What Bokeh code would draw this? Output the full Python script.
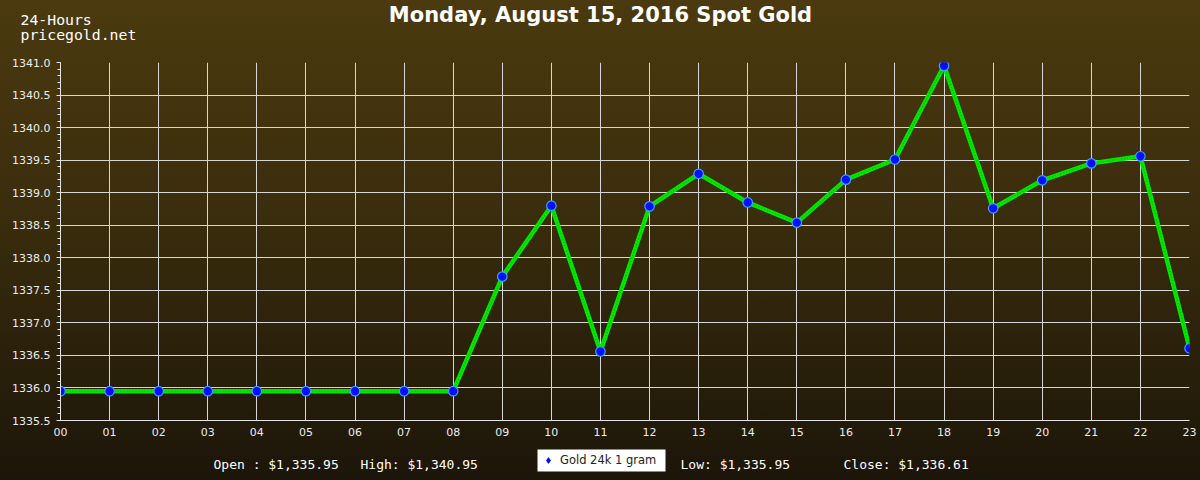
from bokeh.plotting import figure
from bokeh.layouts import column
from bokeh.models import (Label, Legend, LegendItem, FixedTicker, SingleIntervalTicker,
                          NumeralTickFormatter, BoxAnnotation)
from bokeh.embed import file_html
from bokeh.resources import INLINE

# ---- data ----
hours = ["00", "01", "02", "03", "04", "05", "06", "07", "08", "09", "10", "11",
         "12", "13", "14", "15", "16", "17", "18", "19", "20", "21", "22", "23"]
prices = [1335.95, 1335.95, 1335.95, 1335.95, 1335.95, 1335.95, 1335.95, 1335.95,
          1335.95, 1337.71, 1338.80, 1336.56, 1338.79, 1339.29, 1338.85, 1338.54,
          1339.20, 1339.51, 1340.95, 1338.76, 1339.19, 1339.45, 1339.56, 1336.61]
title_text = "Monday, August 15, 2016 Spot Gold"
corner_lines = ["24-Hours", "pricegold.net"]
series_name = "Gold 24k 1 gram"
y_min, y_max = 1335.5, 1341.0

W = 1200
x = list(range(len(hours)))


def blank(height):
    f = figure(width=W, height=height, output_backend="svg", toolbar_location=None,
               x_axis_location=None, y_axis_location=None, min_border=0,
               x_range=(0, 1), y_range=(0, 1))
    f.background_fill_color = None
    f.border_fill_color = None
    f.outline_line_color = None
    f.grid.visible = False
    if hasattr(f, "frame_align"):
        f.frame_align = False
    return f


def lbl(f, text, xx, yy, size, font="DejaVu Sans Mono", style="normal", align="left"):
    f.add_layout(Label(x=xx, y=yy, x_units="screen", y_units="screen", text=text,
                       text_font=font, text_font_size=size, text_font_style=style,
                       text_color="white", text_align=align, text_baseline="middle"))


# ---- header ----
header = blank(54)
lbl(header, title_text, 600, 40, "21px", font="DejaVu Sans", style="bold", align="center")
lbl(header, corner_lines[0], 20, 35, "14.8px")
lbl(header, corner_lines[1], 20, 20, "14.8px")

# ---- main chart ----
p = figure(width=W, height=390, output_backend="svg", toolbar_location=None,
           x_range=(0, len(hours) - 1), y_range=(y_min, y_max),
           min_border_left=60, min_border_right=11, min_border_top=8, min_border_bottom=24)
p.background_fill_color = None
p.border_fill_color = None
p.outline_line_color = None

p.xaxis.ticker = FixedTicker(ticks=x)
p.xaxis.major_label_overrides = {i: h for i, h in enumerate(hours)}
p.yaxis.ticker = SingleIntervalTicker(interval=0.5, num_minor_ticks=5)
p.yaxis.formatter = NumeralTickFormatter(format="0.0")
for ax in p.axis:
    ax.axis_line_color = "#e6e6e6"
    ax.major_tick_line_color = "#e6e6e6"
    ax.minor_tick_line_color = "#e6e6e6"
    ax.major_label_text_color = "#ececec"
    ax.major_label_text_font = "DejaVu Sans"
    ax.major_label_text_font_size = "11px"
p.yaxis.major_tick_in = 0
p.yaxis.major_tick_out = 4
p.yaxis.minor_tick_in = 0
p.yaxis.minor_tick_out = 3
p.yaxis.major_label_standoff = 6
p.xaxis.major_tick_in = 0
p.xaxis.major_tick_out = 0
p.xaxis.minor_tick_line_color = None
p.xaxis.major_label_standoff = 7

p.grid.grid_line_color = "#d6d6d6"
p.grid.grid_line_width = 1

p.line(x, prices, line_color="#00e800", line_width=4.5)
p.line(x, prices, line_color="#0a5a00", line_width=1.2, line_dash="1 2", line_alpha=0.4)
p.scatter(x, prices, size=9.5, fill_color="#0010ff", line_color="#3fa0ff", line_width=1.2)

# ---- footer ----
footer = blank(36)


def money(v):
    return "$" + f"{v:,.2f}"


lbl(footer, "Open : " + money(prices[0]), 213, 16, "13px")
lbl(footer, "High: " + money(max(prices)), 360, 16, "13px")
lbl(footer, "Low: " + money(min(prices)), 680, 16, "13px")
lbl(footer, "Close: " + money(prices[-1]), 843, 16, "13px")

# white legend panel
footer.add_layout(BoxAnnotation(left=537, right=665, bottom=9, top=31,
                                left_units="screen", right_units="screen",
                                bottom_units="screen", top_units="screen",
                                fill_color="white", fill_alpha=1.0, line_color=None))

# legend glyph: same series point, lying outside this strip's range (so only the legend shows it)
leg_r = footer.scatter(x=x[:1], y=prices[:1], marker="diamond", size=6,
                       fill_color="#0000ff", line_color="#0000ff")
legend = Legend(items=[LegendItem(label=series_name, renderers=[leg_r])],
                location=(541, 13), orientation="horizontal",
                background_fill_alpha=0.0, border_line_color=None,
                padding=4, margin=0, spacing=0,
                glyph_width=14, glyph_height=14, label_height=14, label_width=102,
                label_standoff=5,
                label_text_font="DejaVu Sans", label_text_font_size="11.5px",
                label_text_color="#222222")
footer.add_layout(legend)

page = column(header, p, footer, spacing=0,
              styles={"background": "linear-gradient(to bottom, #4b3a0f 0%, #3a2d0d 45%, #1c1509 100%)"})

open("out.html", "w").write(file_html(page, INLINE))
